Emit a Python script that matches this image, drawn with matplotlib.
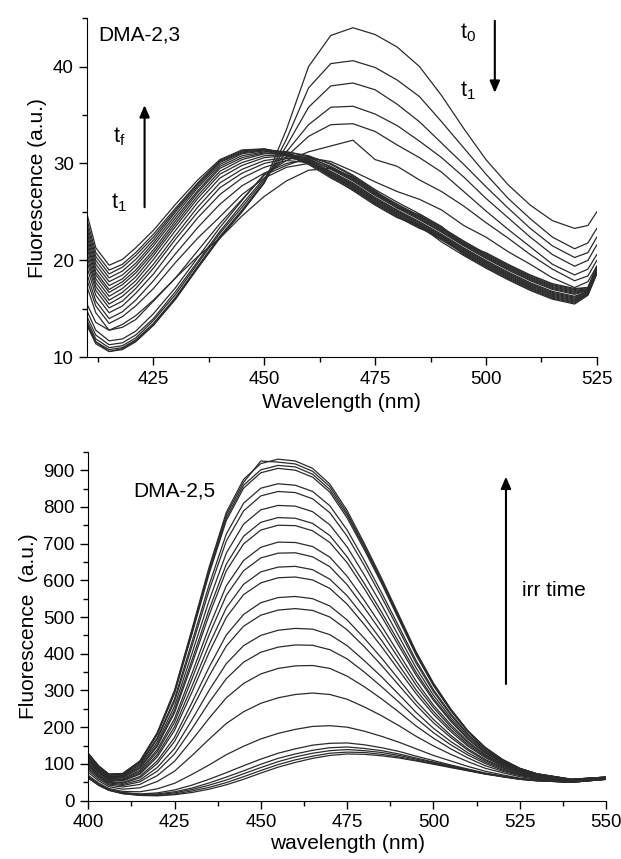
import matplotlib
matplotlib.use("Agg")
import matplotlib.pyplot as plt
from matplotlib.ticker import MultipleLocator

plt.rcParams['font.family'] = ['Liberation Sans', 'DejaVu Sans']
plt.rcParams['mathtext.fontset'] = 'custom'
plt.rcParams['mathtext.rm'] = 'Liberation Sans'

# ---- DMA-2,3 spectra (upper panel) ----
wl_23 = [410, 412, 415, 418, 421, 425, 430, 435, 440, 445, 450, 455, 460, 465,
         470, 475, 480, 485, 490, 495, 500, 505, 510, 515, 520, 523, 525]

# t0 -> t1 : the 470 nm band going down
dma23_t0_t1 = [
    [13.5, 11.6, 10.6, 10.8, 11.6, 13.3, 16.0, 19.2, 22.3, 25.0, 28.0, 33.5, 40.0, 43.2, 44.0, 43.3, 42.0, 40.0, 37.0, 33.6, 30.4, 27.8, 25.7, 24.1, 23.3, 23.6, 25.0],
    [13.3, 11.4, 10.6, 10.9, 11.7, 13.4, 16.1, 19.3, 22.4, 25.1, 28.0, 32.5, 37.8, 40.3, 40.6, 39.9, 38.6, 36.9, 34.3, 31.6, 28.9, 26.4, 24.3, 22.4, 21.2, 21.8, 23.3],
    [13.5, 11.6, 10.8, 11.0, 11.8, 13.5, 16.2, 19.4, 22.5, 25.2, 28.1, 31.8, 35.8, 38.0, 38.3, 37.6, 36.1, 34.3, 32.1, 29.9, 27.6, 25.4, 23.3, 21.5, 20.3, 20.8, 22.4],
    [13.8, 11.9, 11.0, 11.2, 12.0, 13.8, 16.5, 19.7, 22.8, 25.5, 28.3, 31.2, 34.0, 35.8, 35.9, 35.1, 33.9, 32.3, 30.6, 28.6, 26.4, 24.4, 22.4, 20.6, 19.4, 20.0, 21.6],
    [14.2, 12.3, 11.3, 11.5, 12.3, 14.0, 16.8, 19.9, 23.0, 25.8, 28.5, 30.7, 32.8, 34.0, 34.1, 33.3, 31.9, 30.6, 29.1, 27.1, 25.1, 23.2, 21.4, 19.6, 18.5, 19.1, 20.6],
    [14.8, 12.8, 11.7, 11.9, 12.7, 14.5, 17.2, 20.3, 23.4, 26.2, 28.9, 30.3, 31.2, 31.8, 32.4, 30.4, 29.7, 28.3, 27.1, 25.6, 23.9, 22.3, 20.6, 19.1, 17.9, 18.4, 20.0],
    [15.5, 13.6, 12.8, 13.1, 13.9, 15.8, 18.2, 21.0, 23.8, 26.3, 28.8, 29.8, 30.6, 30.2, 29.2, 28.1, 27.1, 26.3, 25.2, 23.6, 22.4, 20.9, 19.6, 18.2, 17.2, 17.8, 19.4],
]

# t1 -> tf : the 445 nm band going up
dma23_t1_tf = [
    [17.3, 14.6, 12.8, 13.4, 14.3, 15.9, 18.2, 20.4, 22.3, 24.6, 26.6, 28.2, 29.3, 29.5, 28.6, 27.1, 25.8, 24.6, 23.3, 21.9, 20.6, 19.4, 18.3, 17.4, 16.9, 17.1, 19.3],
    [18.0, 15.3, 13.5, 14.2, 15.3, 17.1, 19.8, 22.3, 24.5, 26.8, 28.5, 29.6, 30.0, 28.8, 27.5, 26.0, 24.7, 23.5, 22.2, 20.8, 19.5, 18.3, 17.2, 16.3, 15.8, 16.5, 18.7],
    [18.6, 15.8, 14.0, 14.7, 15.9, 17.9, 20.7, 23.4, 25.8, 27.7, 29.0, 30.0, 30.4, 29.5, 28.3, 26.8, 25.5, 24.3, 23.0, 21.6, 20.3, 19.1, 18.0, 17.1, 16.6, 16.9, 19.1],
    [19.3, 16.4, 14.6, 15.3, 16.6, 18.6, 21.6, 24.4, 26.8, 28.5, 29.6, 30.3, 30.1, 28.6, 27.2, 25.7, 24.4, 23.6, 21.9, 20.5, 19.2, 18.0, 16.9, 16.0, 15.5, 16.4, 18.6],
    [19.9, 16.9, 15.1, 15.8, 17.1, 19.2, 22.2, 25.0, 27.5, 29.0, 30.0, 30.5, 30.7, 30.0, 28.8, 27.3, 26.0, 24.8, 23.5, 21.6, 20.8, 19.6, 18.5, 17.6, 17.1, 17.2, 19.4],
    [20.4, 17.3, 15.5, 16.3, 17.5, 19.6, 22.6, 25.5, 28.0, 29.4, 30.3, 30.6, 30.2, 28.9, 27.7, 26.2, 24.9, 23.7, 22.4, 21.0, 19.7, 18.5, 17.4, 16.5, 16.0, 16.6, 18.8],
    [20.8, 17.7, 15.9, 16.7, 17.9, 20.1, 23.1, 26.0, 28.5, 29.8, 30.6, 30.8, 30.6, 29.7, 28.5, 27.0, 25.7, 24.5, 23.2, 21.8, 20.5, 19.3, 18.2, 17.3, 16.8, 17.0, 19.2],
    [21.3, 18.1, 16.3, 17.1, 18.3, 20.5, 23.5, 26.4, 28.9, 30.1, 30.8, 30.9, 30.1, 28.7, 27.4, 25.9, 24.6, 23.4, 22.1, 20.7, 19.4, 18.2, 17.1, 16.2, 15.7, 16.5, 18.7],
    [21.7, 18.5, 16.7, 17.5, 18.7, 20.8, 23.8, 26.7, 29.2, 30.4, 31.0, 31.0, 30.5, 29.4, 28.2, 26.7, 25.4, 24.2, 22.9, 21.5, 20.2, 19.0, 17.9, 17.0, 16.5, 16.9, 19.1],
    [22.1, 18.8, 17.0, 17.8, 19.0, 21.1, 24.1, 27.0, 29.5, 30.6, 31.1, 30.9, 30.2, 29.0, 27.8, 26.3, 25.0, 23.8, 22.5, 21.1, 19.8, 18.6, 17.5, 16.6, 16.1, 16.7, 18.9],
    [22.5, 19.2, 17.4, 18.1, 19.4, 21.5, 24.4, 27.2, 29.7, 30.8, 31.2, 31.2, 30.8, 29.9, 28.7, 27.2, 25.4, 24.7, 23.4, 22.0, 20.7, 19.5, 18.4, 17.5, 17.0, 17.2, 19.3],
    [22.9, 19.6, 17.8, 18.5, 19.7, 21.8, 24.7, 27.5, 29.9, 31.0, 31.3, 30.8, 30.0, 28.8, 27.6, 26.1, 24.8, 23.6, 22.3, 20.9, 19.6, 18.4, 17.3, 16.4, 15.9, 16.6, 18.8],
    [23.3, 20.0, 18.2, 18.9, 20.1, 22.1, 25.0, 27.7, 30.1, 31.1, 31.4, 31.2, 30.7, 29.6, 28.4, 26.9, 25.6, 24.4, 23.1, 21.7, 20.4, 19.2, 18.1, 17.2, 16.7, 17.0, 19.2],
    [23.7, 20.4, 18.6, 19.3, 20.5, 22.4, 25.2, 27.9, 30.2, 31.2, 31.4, 30.9, 29.9, 28.5, 27.3, 25.8, 24.5, 23.3, 22.5, 20.6, 19.3, 18.1, 17.0, 16.1, 15.6, 16.5, 18.7],
    [24.2, 20.8, 19.0, 19.6, 20.8, 22.7, 25.4, 28.0, 30.3, 31.3, 31.5, 31.1, 30.4, 29.2, 28.0, 26.5, 25.2, 24.0, 22.7, 21.3, 20.0, 18.8, 17.7, 16.8, 16.3, 16.8, 19.0],
    [24.8, 21.3, 19.5, 20.1, 21.3, 23.1, 25.8, 28.3, 30.4, 31.4, 31.5, 31.0, 30.3, 29.1, 27.9, 26.4, 25.1, 23.9, 22.6, 21.2, 19.9, 18.7, 17.6, 16.7, 16.2, 16.8, 19.0],
]

# ---- DMA-2,5 spectra (lower panel), from lowest to highest ----
wl_25 = [400, 403, 406, 410, 415, 420, 425, 430, 435, 440, 445, 450, 455, 460, 465,
         470, 475, 480, 485, 490, 495, 500, 505, 510, 515, 520, 525, 530, 540, 550]

dma25_irr = [
    [62, 42, 28, 19, 14, 13, 16, 22, 31, 43, 58, 75, 91, 104, 115, 123, 127, 126, 122, 116, 108, 99, 90, 81, 72, 65, 58, 54, 50, 58],
    [62, 42, 28, 19, 15, 14, 18, 26, 36, 49, 65, 82, 98, 111, 121, 129, 132, 131, 126, 119, 110, 101, 91, 82, 73, 65, 58, 54, 50, 58],
    [63, 43, 29, 20, 16, 16, 21, 30, 42, 56, 73, 90, 106, 119, 129, 136, 139, 136, 131, 123, 113, 103, 93, 83, 73, 66, 59, 54, 50, 58],
    [64, 44, 29, 21, 17, 18, 24, 34, 48, 64, 81, 99, 115, 127, 137, 144, 146, 142, 136, 127, 116, 105, 95, 84, 74, 66, 59, 55, 50, 58],
    [65, 44, 30, 22, 18, 21, 29, 42, 58, 76, 95, 113, 129, 141, 151, 156, 157, 152, 144, 134, 121, 109, 97, 86, 75, 67, 59, 55, 50, 58],
    [69, 48, 33, 25, 24, 32, 47, 71, 97, 125, 148, 168, 183, 194, 202, 204, 200, 189, 175, 159, 141, 123, 108, 93, 80, 70, 61, 56, 51, 59],
    [77, 54, 38, 31, 35, 52, 80, 122, 167, 210, 242, 265, 280, 289, 293, 289, 276, 255, 231, 204, 175, 149, 126, 106, 88, 76, 65, 58, 52, 59],
    [83, 59, 42, 37, 44, 68, 107, 164, 224, 280, 319, 345, 360, 367, 368, 360, 339, 310, 277, 241, 203, 170, 141, 116, 95, 80, 68, 60, 53, 60],
    [88, 63, 45, 41, 51, 80, 127, 195, 267, 332, 377, 404, 418, 424, 423, 411, 386, 350, 310, 268, 224, 185, 152, 124, 101, 83, 70, 61, 53, 60],
    [92, 66, 48, 44, 56, 90, 142, 219, 300, 373, 422, 450, 464, 469, 467, 452, 422, 381, 337, 289, 240, 197, 161, 130, 105, 86, 71, 63, 54, 61],
    [96, 69, 50, 47, 62, 101, 161, 248, 339, 421, 475, 505, 519, 523, 518, 500, 465, 419, 368, 314, 260, 212, 172, 137, 109, 89, 73, 64, 54, 61],
    [99, 71, 52, 49, 66, 108, 172, 266, 363, 451, 507, 539, 553, 556, 550, 530, 492, 442, 388, 330, 271, 221, 178, 141, 112, 91, 75, 65, 54, 61],
    [103, 75, 55, 53, 72, 119, 191, 294, 403, 499, 561, 593, 607, 609, 601, 578, 535, 479, 419, 355, 291, 235, 188, 148, 117, 94, 77, 66, 55, 62],
    [106, 77, 57, 55, 75, 125, 201, 310, 424, 525, 589, 623, 636, 638, 629, 603, 558, 499, 436, 369, 301, 243, 194, 152, 120, 96, 78, 66, 55, 62],
    [109, 79, 59, 57, 79, 133, 213, 330, 451, 559, 626, 661, 674, 675, 664, 637, 588, 525, 458, 386, 314, 253, 201, 157, 123, 98, 79, 67, 56, 62],
    [111, 81, 60, 59, 83, 139, 223, 345, 472, 585, 654, 690, 704, 703, 692, 663, 611, 545, 475, 400, 325, 260, 207, 161, 125, 99, 80, 68, 56, 62],
    [115, 84, 63, 62, 88, 148, 239, 370, 505, 626, 699, 737, 750, 749, 735, 703, 648, 577, 501, 421, 341, 273, 216, 167, 129, 102, 82, 69, 56, 63],
    [116, 85, 64, 64, 90, 152, 246, 381, 520, 644, 720, 758, 771, 769, 755, 722, 664, 591, 513, 431, 349, 278, 220, 169, 131, 103, 82, 69, 57, 63],
    [119, 87, 65, 66, 94, 159, 257, 399, 544, 674, 753, 792, 804, 802, 787, 751, 691, 614, 533, 447, 361, 287, 226, 174, 134, 105, 84, 70, 57, 63],
    [122, 89, 67, 68, 98, 167, 270, 419, 572, 707, 789, 830, 842, 839, 822, 784, 720, 640, 554, 464, 374, 297, 233, 179, 137, 107, 85, 71, 57, 63],
    [124, 91, 69, 70, 101, 171, 277, 430, 587, 726, 810, 851, 863, 859, 842, 803, 737, 654, 566, 474, 381, 302, 237, 181, 139, 108, 86, 72, 57, 64],
    [127, 93, 71, 72, 105, 180, 292, 452, 617, 763, 851, 893, 905, 900, 881, 840, 770, 683, 591, 493, 396, 313, 245, 187, 143, 111, 87, 72, 58, 64],
    [128, 94, 71, 73, 106, 182, 294, 456, 623, 770, 859, 901, 913, 909, 889, 847, 777, 689, 595, 497, 399, 316, 247, 188, 144, 111, 87, 73, 58, 64],
    [128, 94, 72, 73, 107, 183, 297, 460, 629, 778, 867, 925, 922, 917, 897, 855, 783, 694, 600, 501, 402, 318, 248, 189, 144, 112, 88, 73, 58, 64],
    [129, 95, 72, 74, 108, 185, 300, 465, 635, 785, 875, 918, 930, 925, 905, 862, 790, 700, 605, 505, 405, 320, 250, 190, 145, 112, 88, 73, 58, 64],
]

line_color = '#2b2b2b'
fig = plt.figure(figsize=(6.21, 8.59), dpi=100)
ax1 = fig.add_axes([0.140, 0.584, 0.821, 0.395])
ax2 = fig.add_axes([0.142, 0.068, 0.834, 0.406])


def style_axes(ax):
    ax.spines['top'].set_visible(False)
    ax.spines['right'].set_visible(False)
    ax.tick_params(which='major', direction='out', length=6, width=1, labelsize=13.5)
    ax.tick_params(which='minor', direction='out', length=3.5, width=1)


# upper panel
for spec in dma23_t0_t1 + dma23_t1_tf:
    ax1.plot(wl_23, spec, color=line_color, lw=0.9)
ax1.set_xlim(410, 525)
ax1.set_ylim(10, 45)
ax1.xaxis.set_major_locator(MultipleLocator(25))
ax1.xaxis.set_minor_locator(MultipleLocator(12.5))
ax1.yaxis.set_major_locator(MultipleLocator(10))
ax1.yaxis.set_minor_locator(MultipleLocator(5))
style_axes(ax1)
ax1.set_xlabel('Wavelength (nm)', fontsize=15)
ax1.set_ylabel('Fluorescence (a.u.)', fontsize=15)
ax1.text(412.5, 43.3, 'DMA-2,3', fontsize=15, va='center')
ax1.annotate('', xy=(423, 36.3), xytext=(423, 25.2),
             arrowprops=dict(arrowstyle='-|>,head_width=0.3,head_length=0.7',
                             color='black', lw=1.5))
ax1.text(417.3, 32.8, r't$_\mathregular{f}$', fontsize=15.5, ha='center', va='center')
ax1.text(417.3, 26.0, r't$_\mathregular{1}$', fontsize=15.5, ha='center', va='center')
ax1.annotate('', xy=(502, 37.0), xytext=(502, 45),
             arrowprops=dict(arrowstyle='-|>,head_width=0.3,head_length=0.7',
                             color='black', lw=1.5))
ax1.text(496, 43.5, r't$_\mathregular{0}$', fontsize=15.5, ha='center', va='center')
ax1.text(496, 37.5, r't$_\mathregular{1}$', fontsize=15.5, ha='center', va='center')

# lower panel
for spec in dma25_irr:
    ax2.plot(wl_25, spec, color=line_color, lw=0.9)
ax2.set_xlim(400, 550)
ax2.set_ylim(0, 950)
ax2.xaxis.set_major_locator(MultipleLocator(25))
ax2.xaxis.set_minor_locator(MultipleLocator(12.5))
ax2.yaxis.set_major_locator(MultipleLocator(100))
ax2.yaxis.set_minor_locator(MultipleLocator(50))
style_axes(ax2)
ax2.set_xlabel('wavelength (nm)', fontsize=15, labelpad=2)
ax2.set_ylabel('Fluorescence  (a.u.)', fontsize=15)
ax2.text(425, 842, 'DMA-2,5', fontsize=15, ha='center', va='center')
ax2.annotate('', xy=(521, 890), xytext=(521, 310),
             arrowprops=dict(arrowstyle='-|>,head_width=0.3,head_length=0.7',
                             color='black', lw=1.5))
ax2.text(535, 572, 'irr time', fontsize=15, ha='center', va='center')

fig.savefig('out.png', dpi=100)
